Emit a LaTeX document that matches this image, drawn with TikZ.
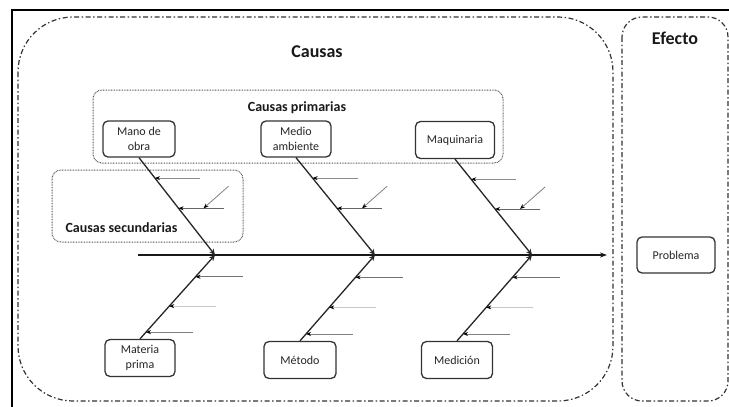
\documentclass[tikz,border=0pt]{standalone}
\usepackage{fontspec}
\setmainfont{Carlito}
\usetikzlibrary{arrows.meta,calc}

\tikzset{
  cbox/.style={draw=black!80, line width=1.3pt, rounded corners=5pt, fill=white,
    text=black!85, align=center, inner sep=1pt,
    font=\fontsize{12}{15}\selectfont},
  heading/.style={font=\bfseries\fontsize{18}{20}\selectfont, text=black!90},
  subheading/.style={font=\bfseries\fontsize{14}{16}\selectfont, text=black!90},
  regionframe/.style={draw=black!80, line width=1.2pt,
    dash pattern=on 5pt off 2.5pt on 1.5pt off 2.5pt},
  groupframe/.style={draw=black!65, line width=1pt, rounded corners=9pt,
    dash pattern=on 0.8pt off 0.8pt},
  bone/.style={draw=black!85, line width=1.3pt,
    -{Stealth[length=6pt,width=5.5pt]}},
  spine/.style={draw=black!90, line width=1.8pt,
    -{Stealth[length=7pt,width=5pt]}},
  twig/.style={line width=0.9pt, -{Stealth[length=5pt,width=4pt,color=black]}},
  hint/.style={draw=black!50, line width=0.8pt,
    -{Stealth[length=5pt,width=4pt,color=black]}}
}

\begin{document}
\begin{tikzpicture}[x=1pt,y=-1pt]
\useasboundingbox (0,0) rectangle (729,407);

% outer frame
\draw[line width=1.6pt, black] (12,407) -- (12,10) -- (729,10);

% region frames
\draw[regionframe, rounded corners=55pt] (18,17) rectangle (613,401);
\draw[regionframe, rounded corners=20pt] (622,17) rectangle (728,401);
\node[heading] (causas) at (317,52) {Causas};
\node[heading] (efecto) at (675,38) {Efecto};

% groups of causes
\draw[groupframe] (93,90) rectangle (503,163);
\node[subheading] (prim) at (297,108) {Causas primarias};
\draw[groupframe] (52,170) rectangle (243,242);
\node[subheading, anchor=west] (secu) at (62,228) {Causas secundarias};

% spine
\coordinate (tail) at (138,255);
\coordinate (head) at (607,255);
\coordinate (j1) at (215,255);
\coordinate (j2) at (375,255);
\coordinate (j3) at (532,255);
\draw[spine] (tail) -- (head);

% cause boxes
\node[cbox, minimum width=72pt, minimum height=36pt] (mano) at (139,139) {Mano de\\obra};
\node[cbox, minimum width=70pt, minimum height=36pt] (medio) at (296,139) {Medio\\ambiente};
\node[cbox, minimum width=79pt, minimum height=37pt] (maq) at (455,140) {Maquinaria};
\node[cbox, minimum width=70pt, minimum height=37pt] (mat) at (140,358) {Materia\\prima};
\node[cbox, minimum width=72pt, minimum height=37pt] (met) at (300,360) {Método};
\node[cbox, minimum width=71pt, minimum height=37pt] (med) at (457,360) {Medición};
\node[cbox, minimum width=78pt, minimum height=36pt] (prob) at (676,255) {Problema};

% main bones
\draw[bone] (mano.south) -- (j1);
\draw[bone] (medio.south) -- (j2);
\draw[bone] (maq.south) -- (j3);
\draw[bone] (mat.north) -- (j1);
\draw[bone] (met.north) -- (j2);
\draw[bone] (med.north) -- (j3);

% secondary causes on the upper bones
\foreach \src/\jn/\nm in {mano/j1/a, medio/j2/b, maq/j3/c}{
  \coordinate (\nm u1) at ($(\src.south)!0.21!(\jn)$);
  \coordinate (\nm u2) at ($(\src.south)!0.52!(\jn)$);
  \coordinate (\nm u1e) at ($(\nm u1)+(45,0)$);
  \coordinate (\nm u2e) at ($(\nm u2)+(45,0)$);
  \coordinate (\nm h1) at ($(\nm u2)+(50,-22)$);
  \coordinate (\nm h2) at ($(\nm u2)+(25,0)$);
  \draw[twig, draw=black!45] (\nm u1e) -- (\nm u1);
  \draw[twig, draw=black!60] (\nm u2e) -- (\nm u2);
  \draw[hint] (\nm h1) -- (\nm h2);
}

% secondary causes on the lower bones
\foreach \jn/\dst/\nm in {j1/mat/a, j2/met/b, j3/med/c}{
  \coordinate (\nm l1) at ($(\jn)!0.26!(\dst.north)$);
  \coordinate (\nm l2) at ($(\jn)!0.61!(\dst.north)$);
  \coordinate (\nm l3) at ($(\jn)!0.92!(\dst.north)$);
  \coordinate (\nm l1e) at ($(\nm l1)+(47,0)$);
  \coordinate (\nm l2e) at ($(\nm l2)+(47,0)$);
  \coordinate (\nm l3e) at ($(\nm l3)+(47,0)$);
  \draw[twig, draw=black!55] (\nm l1e) -- (\nm l1);
  \draw[twig, draw=black!22] (\nm l2e) -- (\nm l2);
  \draw[twig, draw=black!50] (\nm l3e) -- (\nm l3);
}
\end{tikzpicture}
\end{document}
